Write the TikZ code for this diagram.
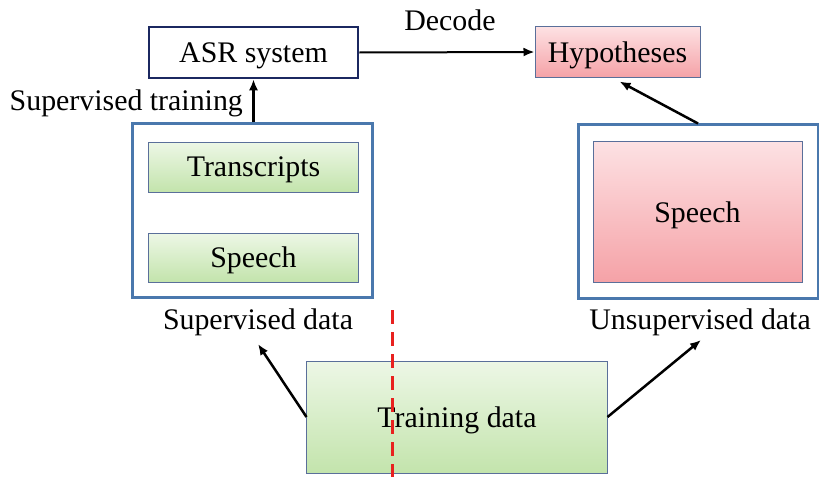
\documentclass[tikz,border=0pt]{standalone}
\usepackage{fontspec}
\setmainfont{Liberation Serif}
\usetikzlibrary{positioning}
\usetikzlibrary{calc}
\usetikzlibrary{arrows.meta}

\definecolor{navyline}{HTML}{1B2860}
\definecolor{steelline}{HTML}{4A78AD}
\definecolor{thinline}{HTML}{5A6F9A}
\definecolor{greentop}{HTML}{EDF7E6}
\definecolor{greenbot}{HTML}{C3E4AC}
\definecolor{pinktop}{HTML}{FDE1E3}
\definecolor{pinkbot}{HTML}{F5A2A7}
\definecolor{dashred}{HTML}{E8211F}

\tikzset{
  bigfont/.style={font=\fontsize{25.5}{30}\selectfont},
  outerbox/.style={rectangle, draw=steelline, line width=0.09cm, inner sep=0pt},
  greenbox/.style={rectangle, draw=thinline, line width=0.03cm, inner sep=0pt,
    top color=greentop, bottom color=greenbot, bigfont, text depth=0pt},
  pinkbox/.style={rectangle, draw=thinline, line width=0.03cm, inner sep=0pt,
    top color=pinktop, bottom color=pinkbot, bigfont, text depth=0pt},
  flow/.style={-{Latex[length=0.33cm, width=0.27cm]}, line width=0.075cm, black}
}

\begin{document}
\begin{tikzpicture}[x=0.03cm, y=-0.03cm]
    \useasboundingbox (0,0) rectangle (819,477);
    % top row
    \node[rectangle, draw=navyline, line width=0.075cm, fill=white, text depth=0pt,
      minimum width=6.27cm, minimum height=1.53cm, inner sep=0pt, bigfont] (asr) at (253.5,52.5) {ASR system};
    \node[pinkbox, minimum width=4.95cm, minimum height=1.5cm] (hyp) at (617.5,52) {Hypotheses};
    \node[bigfont] (decode) at (450,20) {Decode};
    % supervised side
    \node[outerbox, minimum width=7.17cm, minimum height=5.19cm] (sup) at (252.5,210.5) {};
    \node[greenbox, minimum width=6.27cm, minimum height=1.5cm] (trans) at (253.5,167) {Transcripts};
    \node[greenbox, minimum width=6.27cm, minimum height=1.47cm] (supspeech) at (253.5,257.5) {Speech};
    \node[bigfont] (suplabel) at (258,322) {Supervised data};
    \node[bigfont, anchor=east] (trainlabel) at (247,103) {Supervised training};
    % unsupervised side
    \node[outerbox, minimum width=7.2cm, minimum height=5.19cm] (unsup) at (698,211.5) {};
    \node[pinkbox, minimum width=6.27cm, minimum height=4.2cm] (unspeech) at (697.5,212) {Speech};
    \node[bigfont] (unsuplabel) at (700,322) {Unsupervised data};
    % training data
    \node[greenbox, minimum width=9cm, minimum height=3.36cm] (train) at (457,417) {Training data};
    \coordinate (cutTop) at (392,310);
    \coordinate (cutBot) at (392,477);
    \draw[dashred, line width=0.09cm, dash pattern=on 0.42cm off 0.24cm] (cutTop) -- (cutBot);
    % connectors
    \draw[flow, line width=0.06cm] (asr.east) -- (hyp.west);
    \draw[flow] (sup.north -| asr.south) -- (asr.south);
    \draw[flow] (unsup.north) -- ($(hyp.south)+(2,4)$);
    \draw[flow] (train.west) -- (258,344);
    \draw[flow] (train.east) -- (701,340);
  \end{tikzpicture}
\end{document}
